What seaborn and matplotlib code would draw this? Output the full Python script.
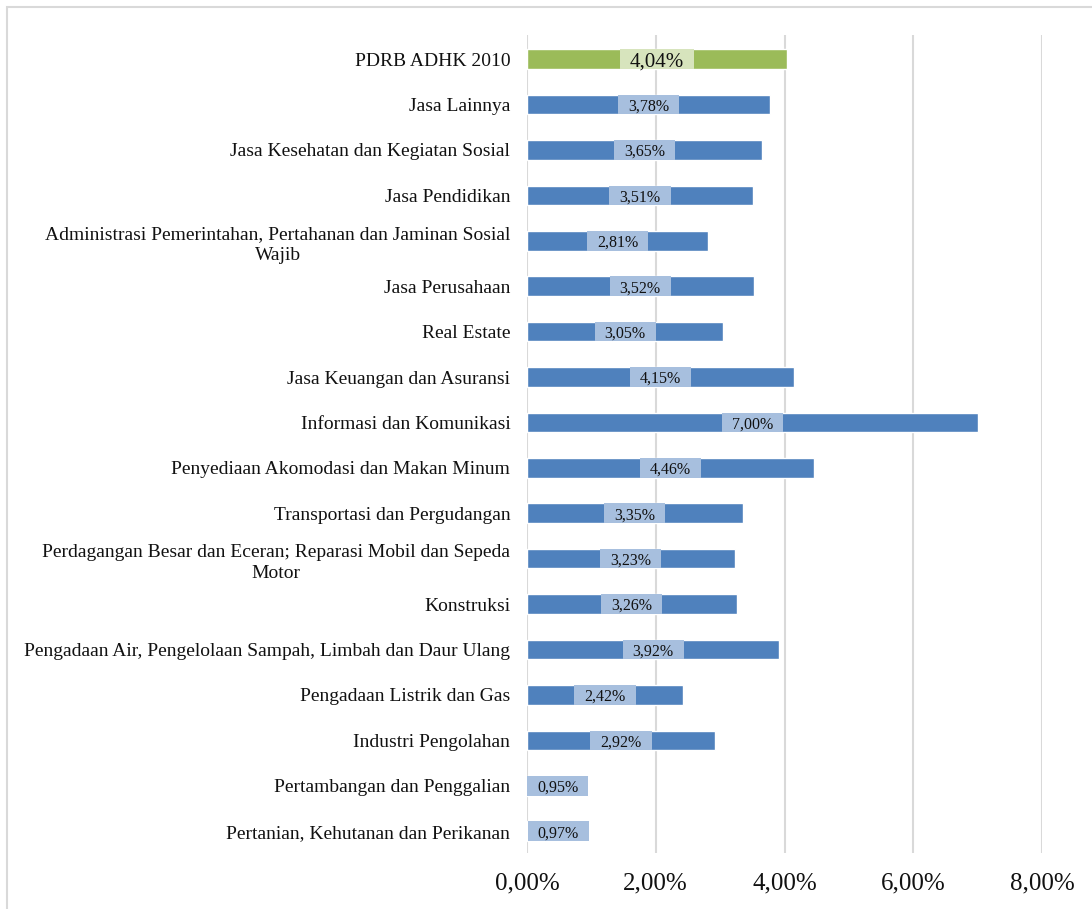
import matplotlib
matplotlib.use('Agg')
import matplotlib.pyplot as plt
import seaborn as sns
import pandas as pd
from matplotlib.patches import Rectangle

# data (laju pertumbuhan per lapangan usaha)
categories = [
    'PDRB ADHK 2010',
    'Jasa Lainnya',
    'Jasa Kesehatan dan Kegiatan Sosial',
    'Jasa Pendidikan',
    'Administrasi Pemerintahan, Pertahanan dan Jaminan Sosial\nWajib',
    'Jasa Perusahaan',
    'Real Estate',
    'Jasa Keuangan dan Asuransi',
    'Informasi dan Komunikasi',
    'Penyediaan Akomodasi dan Makan Minum',
    'Transportasi dan Pergudangan',
    'Perdagangan Besar dan Eceran; Reparasi Mobil dan Sepeda\nMotor',
    'Konstruksi',
    'Pengadaan Air, Pengelolaan Sampah, Limbah dan Daur Ulang',
    'Pengadaan Listrik dan Gas',
    'Industri Pengolahan',
    'Pertambangan dan Penggalian',
    'Pertanian, Kehutanan dan Perikanan',
]
values = [4.04, 3.78, 3.65, 3.51, 2.81, 3.52, 3.05, 4.15, 7.00, 4.46,
          3.35, 3.23, 3.26, 3.92, 2.42, 2.92, 0.95, 0.97]
x_ticks = [0, 2, 4, 6, 8]

BLUE = '#4F81BD'
BLUE_LIGHT = '#A7BFDE'
GREEN = '#9BBB59'
GREEN_LIGHT = '#D7E4BD'
GRID = '#D9D9D9'

df = pd.DataFrame({'kategori': categories, 'nilai': values})
palette = {c: (GREEN if i == 0 else BLUE) for i, c in enumerate(categories)}

sns.set_theme(style='white')
plt.rcParams['font.family'] = ['Liberation Serif', 'DejaVu Serif']

W, H = 1092, 909
fig = plt.figure(figsize=(W / 100, H / 100), dpi=100)
ax = fig.add_axes([527 / W, 1 - 853 / H, (1042 - 527) / W, (853 - 35) / H])

bar_h = 0.43
sns.barplot(data=df, x='nilai', y='kategori', hue='kategori', palette=palette,
            orient='h', width=bar_h, legend=False, saturation=1, ax=ax)

ax.set_xlim(0, 8)
ax.set_ylim(17.48, -0.53)
ax.set_xticks(x_ticks)
ax.set_xticklabels([f'{t:.2f}%'.replace('.', ',') for t in x_ticks])
ax.set_xlabel('')
ax.set_ylabel('')
ax.grid(axis='x', color=GRID, linewidth=1.5)
ax.grid(axis='y', visible=False)
ax.set_axisbelow(True)
for s in ax.spines.values():
    s.set_visible(False)
ax.tick_params(axis='x', length=0, pad=14, labelsize=18, colors='#111111')
ax.tick_params(axis='y', length=0, pad=12, labelsize=14, colors='#111111')
for lbl in ax.get_yticklabels():
    lbl.set_multialignment('center')
    lbl.set_linespacing(1.35)

# label nilai di tengah batang dengan kotak warna muda
fig.canvas.draw()
renderer = fig.canvas.get_renderer()
px_per_unit = ax.transData.transform((1, 0))[0] - ax.transData.transform((0, 0))[0]
pad_px = 10
for i, v in enumerate(values):
    size = 15 if i == 0 else 11.5
    t = ax.text(v / 2, i, f'{v:.2f}%'.replace('.', ','), ha='center', va='center_baseline',
                fontsize=size, color='#111111', zorder=5)
    w_px = t.get_window_extent(renderer).width + 2 * pad_px
    w = w_px / px_per_unit
    ax.add_patch(Rectangle((v / 2 - w / 2, i - bar_h / 2), w, bar_h,
                           facecolor=GREEN_LIGHT if i == 0 else BLUE_LIGHT,
                           edgecolor='none', zorder=4))

# bingkai tipis chart
fig.add_artist(Rectangle((7 / W, -0.05), 1.1, 1 - 7 / H + 0.05, transform=fig.transFigure,
                         fill=False, edgecolor=GRID, linewidth=1.5))

fig.savefig('out.png', dpi=100)
